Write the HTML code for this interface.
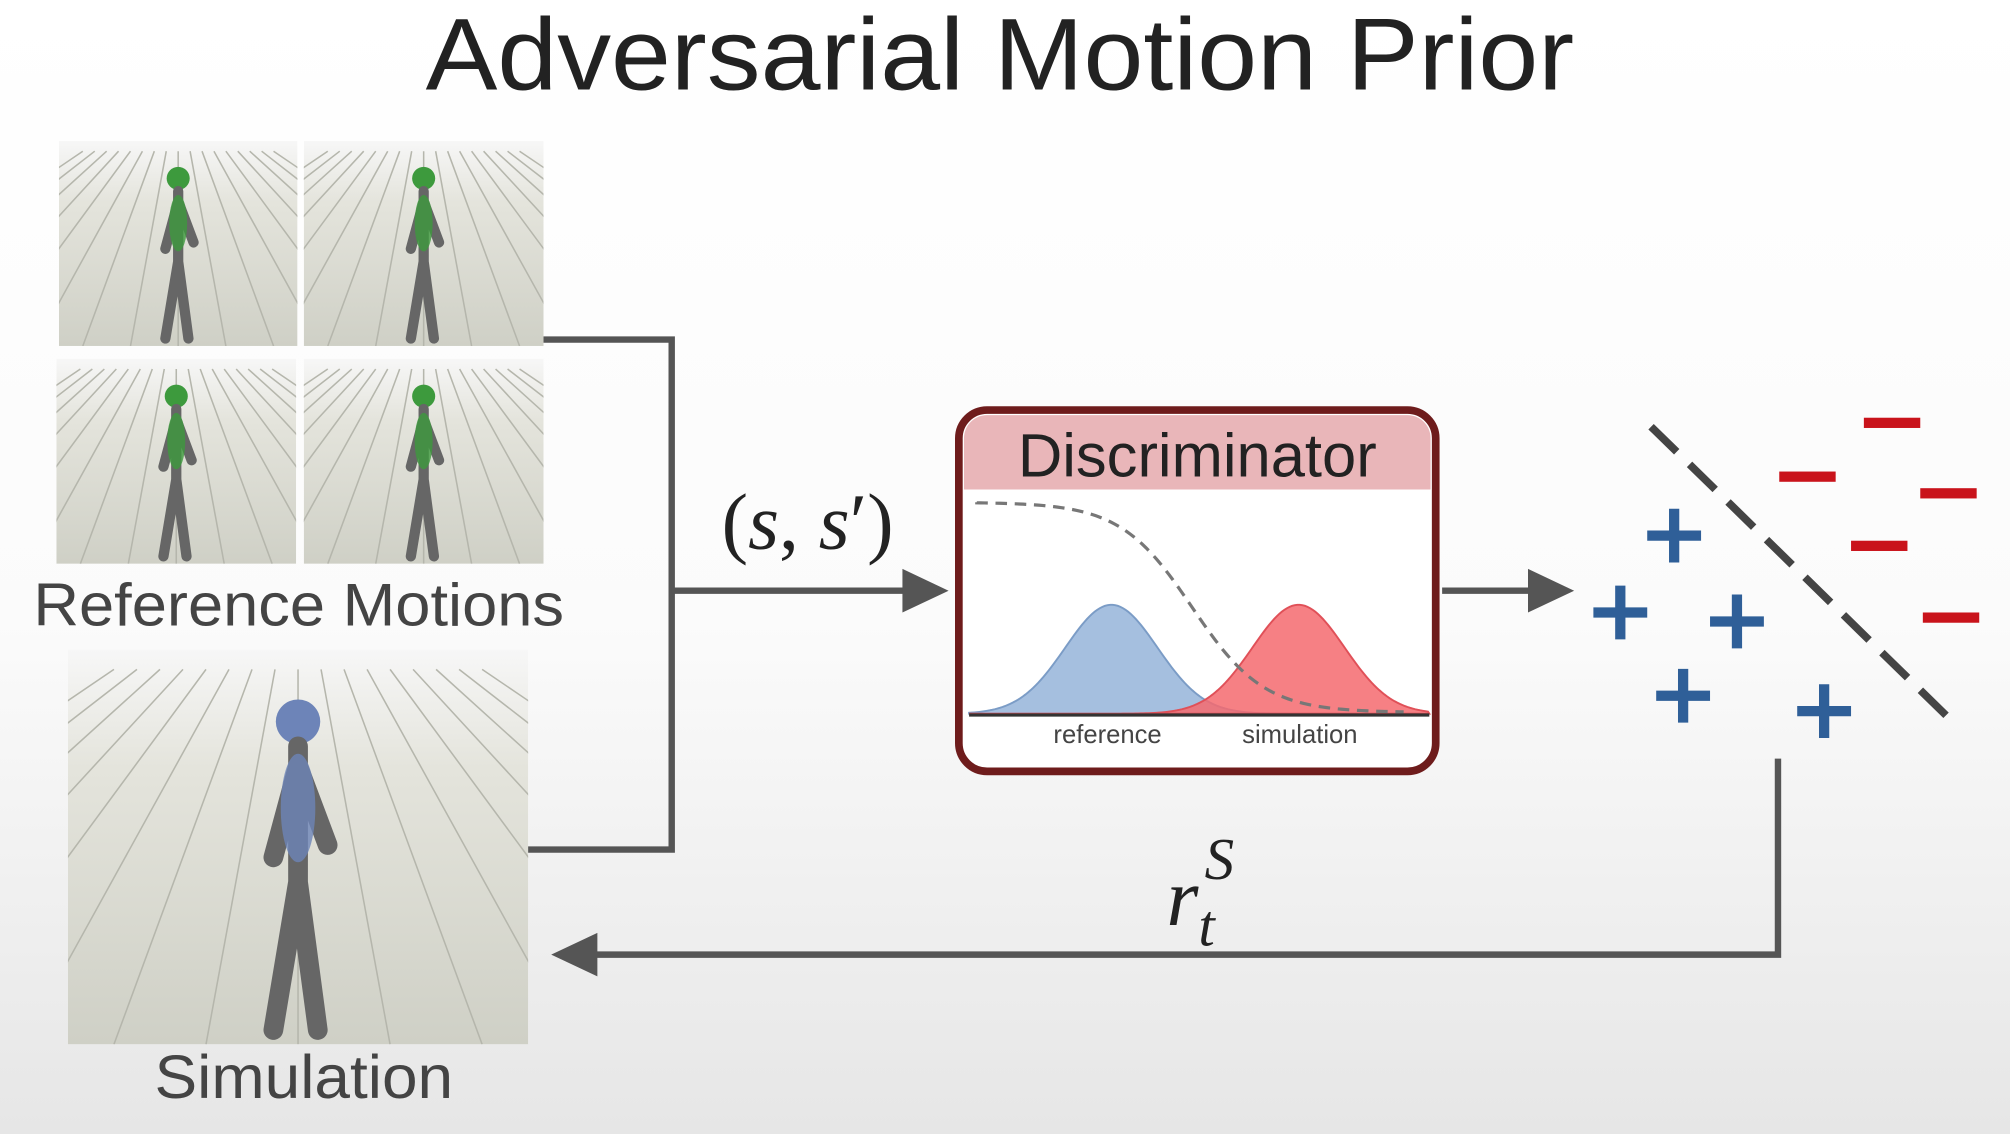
<!DOCTYPE html>
<html><head><meta charset="utf-8"><style>
html,body{margin:0;padding:0;width:2010px;height:1134px;overflow:hidden;background:#fff}
svg{display:block}
text{font-family:"Liberation Sans",sans-serif}
</style></head><body>
<svg id="root" width="2010" height="1134" viewBox="0 0 1568 885" preserveAspectRatio="none" xmlns="http://www.w3.org/2000/svg">
<defs>
<linearGradient id="bg" x1="0" y1="0" x2="0" y2="1"><stop offset="0" stop-color="#ffffff"/><stop offset="0.55" stop-color="#fbfbfb"/><stop offset="1" stop-color="#e6e6e6"/></linearGradient>
<linearGradient id="floor" x1="0" y1="0" x2="0" y2="1"><stop offset="0" stop-color="#f7f7f7"/><stop offset="0.3" stop-color="#e4e4dc"/><stop offset="1" stop-color="#cfd0c6"/></linearGradient>
<clipPath id="c0"><rect x="46" y="110" width="186" height="160"/></clipPath>
<clipPath id="c1"><rect x="237" y="110" width="187" height="160"/></clipPath>
<clipPath id="c2"><rect x="44" y="280" width="187" height="160"/></clipPath>
<clipPath id="c3"><rect x="237" y="280" width="187" height="160"/></clipPath>
<clipPath id="c4"><rect x="53" y="507" width="359" height="308"/></clipPath>
</defs>
<rect x="0" y="0" width="1568" height="885" fill="url(#bg)"/>
<text x="780" y="70" font-size="80" text-anchor="middle" fill="#222" textLength="896" lengthAdjust="spacingAndGlyphs">Adversarial Motion Prior</text>
<g id="frames"></g>
<text x="233" y="488" font-size="47" text-anchor="middle" fill="#444" textLength="414" lengthAdjust="spacingAndGlyphs">Reference Motions</text>
<text x="237" y="857" font-size="48" text-anchor="middle" fill="#444" textLength="233" lengthAdjust="spacingAndGlyphs">Simulation</text>
<g fill="none" stroke="#555" stroke-width="5">
<polyline points="424,265 524,265 524,663 412,663"/>
<line x1="524" y1="461" x2="708" y2="461"/>
<line x1="1125" y1="461" x2="1195" y2="461"/>
<polyline points="1387,592 1387,745 462,745"/>
</g>
<polygon points="704,444 740,461 704,478" fill="#555"/>
<polygon points="1192,444 1228,461 1192,478" fill="#555"/>
<polygon points="466,728 430,745 466,762" fill="#555"/>
<text x="630" y="428" font-size="62" text-anchor="middle" fill="#222" style="font-family:'Liberation Serif',serif">(<tspan font-style="italic">s</tspan>, <tspan font-style="italic">s</tspan>′)</text>
<text x="910" y="722" font-size="64" fill="#222" style="font-family:'Liberation Serif',serif" font-style="italic">r<tspan font-size="46" dy="16">t</tspan><tspan font-size="46" dx="-8" dy="-52">S</tspan></text>
<g>
<rect x="748" y="320" width="372" height="282" rx="22" fill="#fff" stroke="#6e1c1c" stroke-width="6"/>
<path d="M752,342 a18,18 0 0 1 18,-18 h328 a18,18 0 0 1 18,18 v40 h-364 z" fill="#e9b6b9"/>
<text x="934" y="372" font-size="48" text-anchor="middle" fill="#222">Discriminator</text>
<g id="plot"></g>
<line x1="756" y1="558" x2="1115" y2="558" stroke="#333" stroke-width="2.5"/>
<text x="864" y="580" font-size="20" text-anchor="middle" fill="#444">reference</text>
<text x="1014" y="580" font-size="20" text-anchor="middle" fill="#444">simulation</text>
</g>
<line x1="1288" y1="333" x2="1525" y2="565" stroke="#444" stroke-width="6" stroke-dasharray="28,14"/>
<g id="marks"></g>
</svg>
<script>
const refMeans=[867];
const simMeans=[1013];
const peakHeight=[85];
const sigma=[36];
const sigmoidMid=[930];
const plusX=[1306,1264,1355,1313,1423];
const plusY=[418,478,485,543,555];
const minusX=[1476,1410,1520,1466,1522];
const minusY=[330,372,385,426,482];
const NS='http://www.w3.org/2000/svg';
function mk(t,a,p){const e=document.createElementNS(NS,t);for(const k in a)e.setAttribute(k,a[k]);p.appendChild(e);return e;}
const plot=document.getElementById('plot');
const base=557, x0=756, x1=1115;
function gauss(m){let d=`M${x0},${base}`;for(let x=x0;x<=x1;x+=2){d+=` L${x},${base-peakHeight[0]*Math.exp(-((x-m)**2)/(2*sigma[0]**2))}`;}return d+` L${x1},${base} Z`;}
let g1=mk('path',{d:gauss(refMeans[0]),fill:'#9bb8dc',stroke:'#7b9cc6','stroke-width':1.5,'fill-opacity':0.9},plot);


let g2=mk('path',{d:gauss(simMeans[0]),fill:'#f46a6f',stroke:'#e05058','stroke-width':1.5,'fill-opacity':0.85},plot);


let sd=`M762,${392}`;for(let x=762;x<=1095;x+=3){sd+=` L${x},${392+164/(1+Math.exp(-(x-sigmoidMid[0])/28))}`;}
let s=mk('path',{d:sd,fill:'none',stroke:'#777','stroke-width':2.5,'stroke-dasharray':'9,6'},plot);


const marks=document.getElementById('marks');
plusX.forEach((x,i)=>{const y=plusY[i];
 const p=mk('path',{d:`M${x-21},${y} H${x+21} M${x},${y-21} V${y+21}`,stroke:'#2f5f98','stroke-width':8,fill:'none'},marks);
 
 });
minusX.forEach((x,i)=>{const y=minusY[i];
 const r=mk('rect',{x:x-22,y:y-4,width:44,height:8,fill:'#c9131b'},marks);
 
 });
const frames=document.getElementById('frames');
const boxes=[[46,110,186,160,'c0','#3d9a3d'],[237,110,187,160,'c1','#3d9a3d'],[44,280,187,160,'c2','#3d9a3d'],[237,280,187,160,'c3','#3d9a3d'],[53,507,359,308,'c4','#6d84b8']];
boxes.forEach((b,i)=>{const [x,y,w,h,c,col]=b;
 const g=mk('g',{'clip-path':`url(#${c})`},frames);
 
 
 mk('rect',{x,y,width:w,height:h,fill:'url(#floor)'},g);
 for(let k=-8;k<=8;k++){mk('line',{x1:x+w/2+k*w*0.05,y1:y+h*0.05,x2:x+w/2+k*w*0.2,y2:y+h,stroke:'#b5b6ac','stroke-width':1.2},g);}
 const cx=x+w*0.5, top=y+h*0.12, s=h/160;
 mk('circle',{cx:cx,cy:top+10*s,r:9*s,fill:col},g);
 mk('path',{d:`M${cx},${top+20*s} L${cx},${top+75*s} M${cx},${top+75*s} L${cx-10*s},${top+135*s} M${cx},${top+75*s} L${cx+8*s},${top+135*s} M${cx},${top+28*s} L${cx-10*s},${top+65*s} M${cx},${top+28*s} L${cx+12*s},${top+60*s}`,stroke:'#666','stroke-width':8*s,'stroke-linecap':'round',fill:'none'},g);
 mk('ellipse',{cx:cx,cy:top+45*s,rx:7*s,ry:22*s,fill:col,'fill-opacity':0.8},g);
});
</script>
</body></html>
